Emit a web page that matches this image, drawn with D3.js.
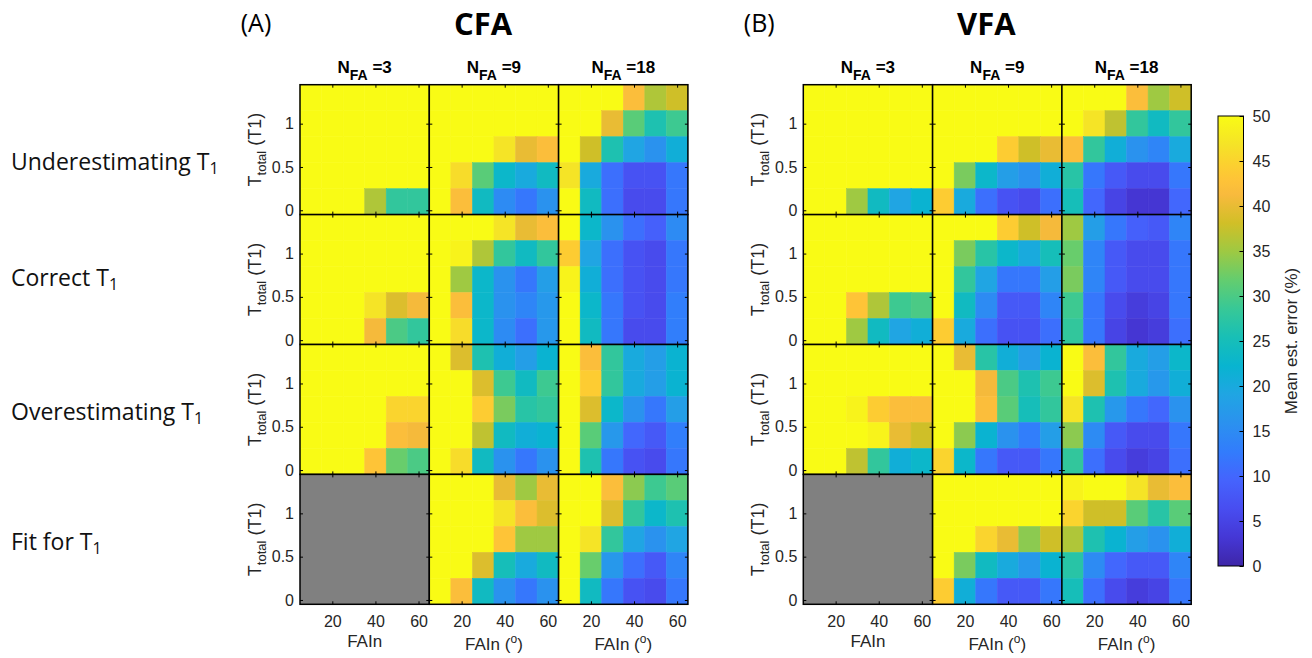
<!DOCTYPE html>
<html>
<head>
<meta charset="utf-8">
<script src="https://cdn.jsdelivr.net/npm/d3@7"></script>
<style>
  body { margin: 0; background: #fff; }
</style>
</head>
<body>
<script>
// Eixos e rotulos
const faIn = [10, 20, 30, 40, 50, 60];
const tTotal = [1.3, 1.0, 0.7, 0.4, 0.1];   // linhas de cima para baixo
const nFA = [3, 9, 18];
const scenarios = ["Underestimating", "Correct", "Overestimating", "Fit for"];
const cbTicks = [0, 5, 10, 15, 20, 25, 30, 35, 40, 45, 50];

// CFA - valores (erro medio %, 50 = saturado)
const cfaUnder3 = [[50,50,50,50,50,50],[50,50,50,50,50,50],[50,50,50,50,50,50],[50,50,50,50,50,50],[50,50,50,36,28,28]];
const cfaUnder9 = [[50,50,50,50,50,50],[50,50,50,50,50,50],[50,50,50,47,40,42],[50,46,31,23,20,24],[50,42,24,15,12,16]];
const cfaUnder18 = [[50,50,50,42,36,38],[50,50,40,31,26,29],[50,38,26,19,16,21],[47,20,11,7,7,12],[50,24,11,6,6,12]];

const cfaCorrect3 = [[50,50,50,50,50,50],[50,50,50,50,50,50],[50,50,50,50,50,50],[50,50,50,47,39,41],[50,50,50,41,30,28]];
const cfaCorrect9 = [[50,50,50,47,40,42],[50,49,36,28,24,28],[50,35,23,16,12,18],[50,42,23,16,14,17],[50,46,23,15,11,17]];
const cfaCorrect18 = [[50,23,16,11,9,15],[44,19,11,7,6,12],[49,21,11,7,6,12],[50,23,12,7,6,13],[50,24,12,6,6,13]];

const cfaOver3 = [[50,50,50,50,50,50],[50,50,50,50,50,50],[50,50,50,50,45,45],[50,50,50,50,42,41],[50,50,50,43,32,30]];
const cfaOver9 = [[50,39,26,21,18,22],[50,50,39,29,24,29],[50,50,44,33,27,28],[50,50,37,24,21,22],[50,46,24,16,12,16]];
const cfaOver18 = [[50,42,28,20,18,22],[50,44,28,20,18,22],[50,39,23,16,12,18],[50,31,17,10,8,13],[50,26,12,7,6,12]];

const cfaFit3 = null; // sem dados (cinza)
const cfaFit9 = [[50,50,50,40,35,40],[50,50,50,47,42,39],[50,50,50,43,35,35],[50,50,39,25,20,24],[50,42,24,16,12,16]];
const cfaFit18 = [[50,50,42,34,29,31],[50,50,39,28,23,26],[50,47,28,19,16,19],[50,32,17,11,8,14],[50,24,12,7,6,12]];

// VFA
const vfaUnder3 = [[50,50,50,50,50,50],[50,50,50,50,50,50],[50,50,50,50,50,50],[50,50,50,50,50,50],[50,50,35,24,19,22]];
const vfaUnder9 = [[50,50,50,50,50,50],[50,50,50,50,50,50],[50,50,50,44,38,40],[50,33,23,18,16,21],[44,20,11,7,6,11]];
const vfaUnder18 = [[50,50,50,42,35,38],[50,47,37,28,24,28],[42,28,21,16,14,20],[27,12,8,6,6,12],[25,10,5,3,3,10]];

const vfaCorrect3 = [[50,50,50,50,50,50],[50,50,50,50,50,50],[50,50,50,50,50,50],[50,50,43,36,29,30],[50,50,35,24,19,21]];
const vfaCorrect9 = [[50,50,50,44,38,41],[50,33,27,23,20,25],[50,28,19,12,12,18],[50,24,15,8,8,14],[44,20,11,7,7,11]];
const vfaCorrect18 = [[35,18,12,9,8,14],[32,14,8,6,6,12],[33,14,8,6,6,12],[29,12,6,4,5,12],[28,12,5,3,4,11]];

const vfaOver3 = [[50,50,50,50,50,50],[50,50,50,50,50,50],[50,50,49,44,42,42],[50,50,50,49,40,38],[50,50,37,28,21,23]];
const vfaOver9 = [[50,40,27,21,18,22],[50,50,41,30,26,29],[50,50,42,31,25,28],[50,34,22,16,13,18],[45,23,12,8,8,12]];
const vfaOver18 = [[50,42,28,20,18,23],[50,39,26,20,17,21],[47,26,17,12,10,16],[34,15,8,6,6,12],[28,11,6,4,5,11]];

const vfaFit3 = null;
const vfaFit9 = [[50,50,50,50,50,50],[50,50,50,50,50,50],[50,50,45,40,34,38],[50,33,24,20,17,22],[44,21,12,8,8,12]];
const vfaFit18 = [[49,50,50,47,40,42],[45,38,38,31,27,31],[36,26,22,18,16,21],[27,15,10,8,8,14],[25,11,6,4,5,12]];

const cfaGrids = [
  [cfaUnder3, cfaUnder9, cfaUnder18],
  [cfaCorrect3, cfaCorrect9, cfaCorrect18],
  [cfaOver3, cfaOver9, cfaOver18],
  [cfaFit3, cfaFit9, cfaFit18]
];
const vfaGrids = [
  [vfaUnder3, vfaUnder9, vfaUnder18],
  [vfaCorrect3, vfaCorrect9, vfaCorrect18],
  [vfaOver3, vfaOver9, vfaOver18],
  [vfaFit3, vfaFit9, vfaFit18]
];

// Mapa de cores parula
const parula = [
  [0.000, "#3e26a8"], [0.063, "#4537d5"], [0.127, "#484df0"], [0.190, "#4563fd"],
  [0.254, "#327cfc"], [0.317, "#2b91ef"], [0.381, "#20a5e3"], [0.444, "#08b4d0"],
  [0.508, "#18bfb6"], [0.571, "#37c897"], [0.635, "#63cd6f"], [0.698, "#9dc943"],
  [0.762, "#d1bf27"], [0.825, "#f8ba3d"], [0.857, "#fec338"], [0.889, "#fccf30"],
  [0.937, "#f5e327"], [1.000, "#f9fb15"]
];
const color = d3.scaleLinear()
    .domain(parula.map(d => d[0] * 50))
    .range(parula.map(d => d[1]))
    .clamp(true);

const tickFont = "Arial, 'Liberation Sans', sans-serif";
const textFont = "'Open Sans', Lato, sans-serif";

// Seleciona o SVG
const svg = d3.select("body").append("svg")
    .attr("width", 1312)
    .attr("height", 658);

const W = 129.3, H = 129.9, top0 = 84.7;
const x = d3.scaleLinear().domain([5, 65]).range([0, W]);
const y = d3.scaleLinear().domain([-0.05, 1.45]).range([H, 0]);

function drawPanel(left, grids, letter, title) {
  // titulo
  svg.append("text")
      .attr("x", left - 44).attr("y", 32)
      .attr("text-anchor", "middle")
      .attr("font-family", textFont).attr("font-size", 25)
      .text(letter);
  svg.append("text")
      .attr("x", left + 183).attr("y", 35)
      .attr("text-anchor", "middle")
      .attr("font-family", textFont).attr("font-size", 31).attr("font-weight", "bold")
      .text(title);

  grids.forEach((rowGrids, r) => {
    rowGrids.forEach((grid, c) => {
      const g = svg.append("g")
          .attr("transform", `translate(${left + c * W},${top0 + r * H})`);

      if (grid === null) {
        g.append("rect").attr("width", W).attr("height", H).attr("fill", "#808080");
      } else {
        const cells = grid.flatMap((row, i) => row.map((v, j) => ({ t: tTotal[i], fa: faIn[j], v: v })));
        g.selectAll("rect.cell")
          .data(cells)
          .join("rect")
            .attr("class", "cell")
            .attr("x", d => x(d.fa - 5))
            .attr("y", d => y(d.t + 0.15))
            .attr("width", d => x(d.fa + 5) - x(d.fa - 5))
            .attr("height", d => y(d.t - 0.15) - y(d.t + 0.15))
            .attr("fill", d => color(d.v))
            .attr("stroke", d => color(d.v))
            .attr("stroke-width", 0.5);
      }

      // eixos com ticks para dentro
      const xb = g.append("g").attr("transform", `translate(0,${H})`)
          .call(d3.axisBottom(x).tickValues([20, 40, 60]).tickSizeInner(-3).tickSizeOuter(0)
            .tickPadding(11).tickFormat(r === 3 ? d => d : ""));
      const xt = g.append("g")
          .call(d3.axisTop(x).tickValues([20, 40, 60]).tickSizeInner(-3).tickSizeOuter(0).tickFormat(""));
      const yl = g.append("g")
          .call(d3.axisLeft(y).tickValues([0, 0.5, 1]).tickSizeInner(-3).tickSizeOuter(0)
            .tickPadding(6).tickFormat(c === 0 ? d => d : ""));
      const yr = g.append("g").attr("transform", `translate(${W},0)`)
          .call(d3.axisRight(y).tickValues([0, 0.5, 1]).tickSizeInner(-3).tickSizeOuter(0).tickFormat(""));
      [xb, xt, yl, yr].forEach(a => {
        a.select(".domain").remove();
        a.attr("font-family", tickFont).attr("font-size", 16);
        a.selectAll("text").attr("fill", "#262626");
      });

      g.append("rect")
          .attr("width", W).attr("height", H)
          .attr("fill", "none").attr("stroke", "#000").attr("stroke-width", 1.5);

      // cabecalho N_FA
      if (r === 0) {
        const t = g.append("text")
            .attr("x", W / 2).attr("y", -12)
            .attr("text-anchor", "middle")
            .attr("font-family", tickFont).attr("font-size", 17).attr("font-weight", "bold");
        t.append("tspan").text("N");
        t.append("tspan").attr("font-size", 14).attr("dy", 7).text("FA");
        t.append("tspan").attr("dy", -7).text(" =" + nFA[c]);
      }

      // rotulo y
      if (c === 0) {
        const t = g.append("text")
            .attr("transform", `translate(-39,${H / 2}) rotate(-90)`)
            .attr("text-anchor", "middle")
            .attr("font-family", tickFont).attr("font-size", 18).attr("fill", "#262626");
        t.append("tspan").text("T");
        t.append("tspan").attr("font-size", 13).attr("dy", 5).text("total");
        t.append("tspan").attr("dy", -5).text(" (T1)");
      }

      // rotulo x
      if (r === 3) {
        const t = g.append("text")
            .attr("x", W / 2).attr("y", c === 0 ? H + 43 : H + 46)
            .attr("text-anchor", "middle")
            .attr("font-family", tickFont).attr("font-size", 17).attr("fill", "#262626");
        if (c === 0) {
          t.text("FAIn");
        } else {
          t.append("tspan").text("FAIn (");
          t.append("tspan").attr("font-size", 12).attr("dy", -7).text("o");
          t.append("tspan").attr("dy", 7).text(")");
        }
      }
    });
  });
}

drawPanel(300, cfaGrids, "(A)", "CFA");
drawPanel(803.3, vfaGrids, "(B)", "VFA");

// Rotulos das linhas
const rowBase = [170, 286, 420, 550];
scenarios.forEach((s, i) => {
  const t = svg.append("text")
      .attr("x", 11).attr("y", rowBase[i])
      .attr("font-family", textFont).attr("font-size", 23).attr("fill", "#111");
  t.append("tspan").text(s + " T");
  t.append("tspan").attr("font-size", 16).attr("dy", 4).text("1");
});

// Barra de cores
const cb = svg.append("g").attr("transform", "translate(1218,116)");
const cbH = 450, cbW = 25.5;
const cbScale = d3.scaleLinear().domain([0, 50]).range([cbH, 0]);

const grad = svg.append("defs").append("linearGradient")
    .attr("id", "cbgrad")
    .attr("x1", 0).attr("y1", 1).attr("x2", 0).attr("y2", 0);
grad.selectAll("stop")
  .data(parula)
  .join("stop")
    .attr("offset", d => d[0])
    .attr("stop-color", d => d[1]);

cb.append("rect")
    .attr("width", cbW).attr("height", cbH)
    .attr("fill", "url(#cbgrad)")
    .attr("stroke", "#000").attr("stroke-width", 1);

const cbAxis = cb.append("g").attr("transform", `translate(${cbW},0)`)
    .call(d3.axisRight(cbScale).tickValues(cbTicks).tickSizeInner(-4).tickSizeOuter(0).tickPadding(9));
cbAxis.select(".domain").remove();
cbAxis.attr("font-family", tickFont).attr("font-size", 16);
cbAxis.selectAll("text").attr("fill", "#262626");

svg.append("text")
    .attr("transform", "translate(1297,341) rotate(-90)")
    .attr("text-anchor", "middle")
    .attr("font-family", tickFont).attr("font-size", 17).attr("fill", "#262626")
    .text("Mean est. error (%)");
</script>
</body>
</html>
